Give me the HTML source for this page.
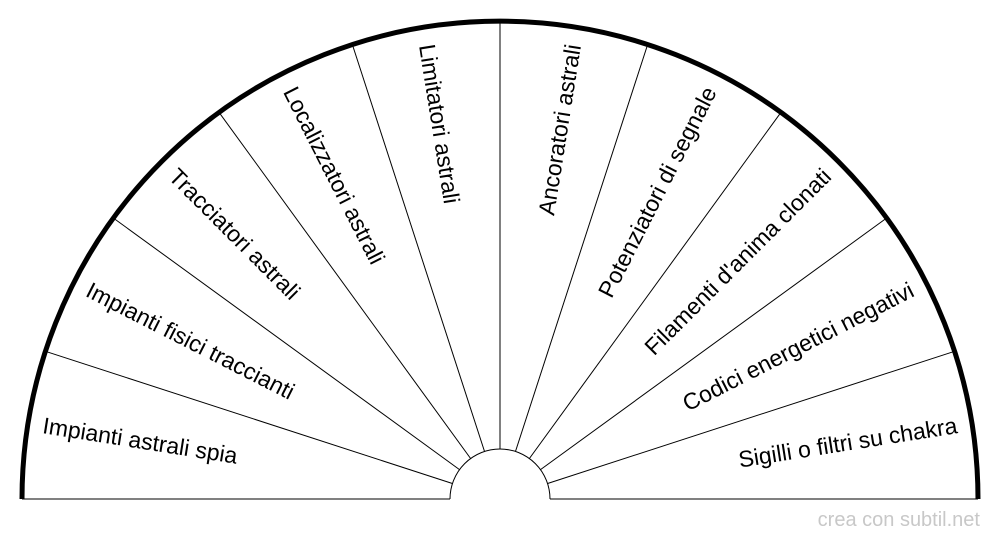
<!DOCTYPE html>
<html><head><meta charset="utf-8"><style>html,body{margin:0;padding:0;background:#fff}svg{display:block}</style></head>
<body>
<svg width="1000" height="540" viewBox="0 0 1000 540" xmlns="http://www.w3.org/2000/svg" font-family="Liberation Sans, sans-serif" font-size="23">
<g stroke="#000" stroke-width="1" fill="none">
<line x1="22" y1="499" x2="450" y2="499"/>
<line x1="550" y1="499" x2="978" y2="499"/>
<path d="M450,499 A50,50 0 0 1 550,499"/>
<line x1="452.4" y1="483.5" x2="45.4" y2="351.3"/>
<line x1="459.5" y1="469.6" x2="113.3" y2="218.0"/>
<line x1="470.6" y1="458.5" x2="219" y2="112.3"/>
<line x1="484.5" y1="451.4" x2="352.3" y2="44.4"/>
<line x1="500" y1="449" x2="500" y2="21"/>
<line x1="515.5" y1="451.4" x2="647.7" y2="44.4"/>
<line x1="529.4" y1="458.5" x2="781" y2="112.3"/>
<line x1="540.5" y1="469.6" x2="886.7" y2="218.0"/>
<line x1="547.6" y1="483.5" x2="954.6" y2="351.3"/>
<path d="M22,499 A478,478 0 0 1 978,499" stroke-width="5"/>
</g>
<g fill="#000" dominant-baseline="middle">
<text x="42.7" y="427" transform="rotate(9 42.7 427)">Impianti astrali spia</text>
<text x="87.1" y="290.2" transform="rotate(27 87.1 290.2)">Impianti fisici traccianti</text>
<text x="171.7" y="173.7" transform="rotate(45 171.7 173.7)">Tracciatori astrali</text>
<text x="288.2" y="89.1" transform="rotate(63 288.2 89.1)">Localizzatori astrali</text>
<text x="425" y="44.7" transform="rotate(81 425 44.7)">Limitatori astrali</text>
<text x="575" y="44.7" text-anchor="end" transform="rotate(-81 575 44.7)">Ancoratori astrali</text>
<text x="711.8" y="89.1" text-anchor="end" transform="rotate(-63 711.8 89.1)">Potenziatori di segnale</text>
<text x="828.3" y="173.7" text-anchor="end" transform="rotate(-45 828.3 173.7)">Filamenti d'anima clonati</text>
<text x="912.9" y="290.2" text-anchor="end" transform="rotate(-27 912.9 290.2)">Codici energetici negativi</text>
<text x="957.3" y="427" text-anchor="end" transform="rotate(-9 957.3 427)">Sigilli o filtri su chakra</text>
</g>
<text x="980" y="526" text-anchor="end" font-size="20" fill="#c8c8c8">crea con subtil.net</text>
</svg>
</body></html>
